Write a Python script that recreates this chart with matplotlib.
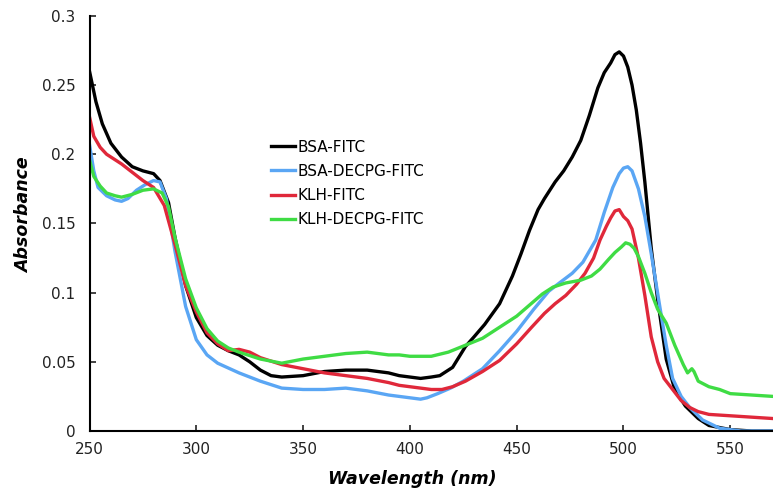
import matplotlib.pyplot as plt
from matplotlib.ticker import FuncFormatter

# wavelength (nm) / absorbance values
bsa_x = [250, 253, 256, 260, 265, 270, 275, 280, 283, 287, 290, 295, 300, 305, 310, 315, 320,
         325, 330, 335, 340, 350, 360, 370, 380, 390, 395, 400, 405, 410, 414, 420, 426, 430,
         435, 442, 448, 452, 456, 460, 463, 468, 472, 476, 480, 484, 488, 491, 494, 496, 498,
         500, 502, 504, 506, 508, 510, 513, 516, 520, 524, 529, 535, 540, 550, 560, 570]
bsa_y = [0.260, 0.238, 0.222, 0.208, 0.198, 0.191, 0.188, 0.186, 0.181, 0.165, 0.140, 0.105,
         0.082, 0.069, 0.062, 0.058, 0.055, 0.050, 0.044, 0.040, 0.039, 0.040, 0.043, 0.044,
         0.044, 0.042, 0.040, 0.039, 0.038, 0.039, 0.040, 0.046, 0.061, 0.068, 0.077, 0.092,
         0.112, 0.128, 0.145, 0.160, 0.168, 0.180, 0.188, 0.198, 0.210, 0.228, 0.248, 0.259,
         0.266, 0.272, 0.274, 0.271, 0.263, 0.250, 0.232, 0.208, 0.180, 0.132, 0.095, 0.052,
         0.030, 0.018, 0.009, 0.004, 0.001, 0.000, 0.000]

bsad_x = [250, 252, 254, 258, 262, 265, 268, 272, 276, 280, 283, 286, 290, 295, 300, 305, 310,
          320, 330, 340, 350, 360, 370, 380, 390, 400, 405, 408, 413, 419, 425, 434, 442, 450,
          458, 465, 470, 476, 481, 487, 491, 495, 498, 500, 502, 504, 507, 510, 513, 517, 520,
          523, 527, 531, 537, 545, 555, 570]
bsad_y = [0.207, 0.188, 0.176, 0.170, 0.167, 0.166, 0.168, 0.174, 0.178, 0.181, 0.180, 0.168,
          0.130, 0.090, 0.066, 0.055, 0.049, 0.042, 0.036, 0.031, 0.030, 0.030, 0.031, 0.029,
          0.026, 0.024, 0.023, 0.024, 0.027, 0.031, 0.036, 0.045, 0.058, 0.072, 0.088, 0.101,
          0.107, 0.114, 0.122, 0.138, 0.158, 0.176, 0.186, 0.190, 0.191, 0.188, 0.175, 0.155,
          0.128, 0.090, 0.062, 0.038, 0.025, 0.017, 0.008, 0.002, 0.000, 0.000]

klh_x = [250, 252, 255, 258, 262, 265, 270, 275, 280, 285, 290, 295, 300, 305, 310, 315, 320,
         325, 330, 340, 350, 360, 370, 380, 390, 395, 400, 405, 410, 415, 420, 426, 434, 442,
         450, 457, 463, 468, 473, 478, 482, 486, 489, 492, 494, 496, 498, 500, 502, 504, 507,
         510, 513, 516, 519, 523, 527, 531, 535, 540, 550, 560, 570]
klh_y = [0.227, 0.213, 0.205, 0.200, 0.196, 0.193, 0.187, 0.181, 0.176, 0.163, 0.135, 0.105,
         0.086, 0.071, 0.063, 0.058, 0.059, 0.057, 0.053, 0.048, 0.045, 0.042, 0.040, 0.038,
         0.035, 0.033, 0.032, 0.031, 0.030, 0.030, 0.032, 0.036, 0.043, 0.051, 0.063, 0.075,
         0.085, 0.092, 0.098, 0.106, 0.114, 0.125, 0.138, 0.148, 0.154, 0.159, 0.160, 0.155,
         0.152, 0.146, 0.125, 0.098, 0.068, 0.050, 0.038, 0.030, 0.022, 0.017, 0.014, 0.012,
         0.011, 0.010, 0.009]

klhd_x = [250, 252, 255, 258, 262, 265, 270, 275, 280, 284, 287, 290, 295, 300, 305, 310, 315,
          320, 330, 340, 350, 360, 370, 380, 390, 395, 400, 405, 410, 418, 426, 434, 442, 450,
          456, 462, 467, 473, 480, 485, 489, 493, 496, 499, 501, 503, 505, 507, 510, 513, 516,
          520, 524, 528, 530, 532, 533, 535, 540, 545, 550, 560, 570]
klhd_y = [0.196, 0.184, 0.177, 0.172, 0.170, 0.169, 0.171, 0.174, 0.175, 0.172, 0.162, 0.140,
          0.110, 0.089, 0.074, 0.065, 0.060, 0.057, 0.052, 0.049, 0.052, 0.054, 0.056, 0.057,
          0.055, 0.055, 0.054, 0.054, 0.054, 0.057, 0.062, 0.067, 0.075, 0.083, 0.091, 0.099,
          0.104, 0.107, 0.109, 0.112, 0.117, 0.124, 0.129, 0.133, 0.136, 0.135, 0.132, 0.126,
          0.114, 0.100, 0.088, 0.078, 0.062, 0.048, 0.042, 0.045, 0.043, 0.036, 0.032, 0.030,
          0.027, 0.026, 0.025]

labels = ["BSA-FITC", "BSA-DECPG-FITC", "KLH-FITC", "KLH-DECPG-FITC"]
colors = ["#000000", "#5aa6f4", "#e0283a", "#3fdc44"]
x_ticks = [250, 300, 350, 400, 450, 500, 550]
y_ticks = [0, 0.05, 0.1, 0.15, 0.2, 0.25, 0.3]

fig = plt.figure(figsize=(7.73, 4.97), dpi=100)
ax = fig.add_axes([0.1158, 0.1328, 0.8842, 0.8352])

series = [(bsa_x, bsa_y), (bsad_x, bsad_y), (klh_x, klh_y), (klhd_x, klhd_y)]
for (xs, ys), lab, col in zip(series, labels, colors):
    ax.plot(xs, ys, color=col, lw=2.4, label=lab, solid_joinstyle="round")

ax.set_xlim(250, 570)
ax.set_ylim(0, 0.3)
ax.set_xticks(x_ticks)
ax.set_yticks(y_ticks)
ax.yaxis.set_major_formatter(FuncFormatter(lambda v, p: f"{v:g}"))
ax.tick_params(direction="in", length=4, width=1.2, labelsize=11, pad=8, colors="#222222")
ax.tick_params(axis="y", pad=10)
for s in ["top", "right"]:
    ax.spines[s].set_visible(False)
for s in ["left", "bottom"]:
    ax.spines[s].set_linewidth(1.5)

ax.set_ylabel("Absorbance", fontsize=12.5, fontstyle="italic", fontweight="bold")
ax.yaxis.set_label_coords(-0.083, 0.52)
ax.set_xlabel("Wavelength (nm)", fontsize=12.5, fontstyle="italic", fontweight="bold")
ax.xaxis.set_label_coords(0.473, -0.095)

ax.legend(loc="upper left", bbox_to_anchor=(0.245, 0.735), frameon=False, fontsize=11,
          handlelength=1.6, handletextpad=0.15, labelspacing=0.6)

fig.savefig("out.png", dpi=100)
